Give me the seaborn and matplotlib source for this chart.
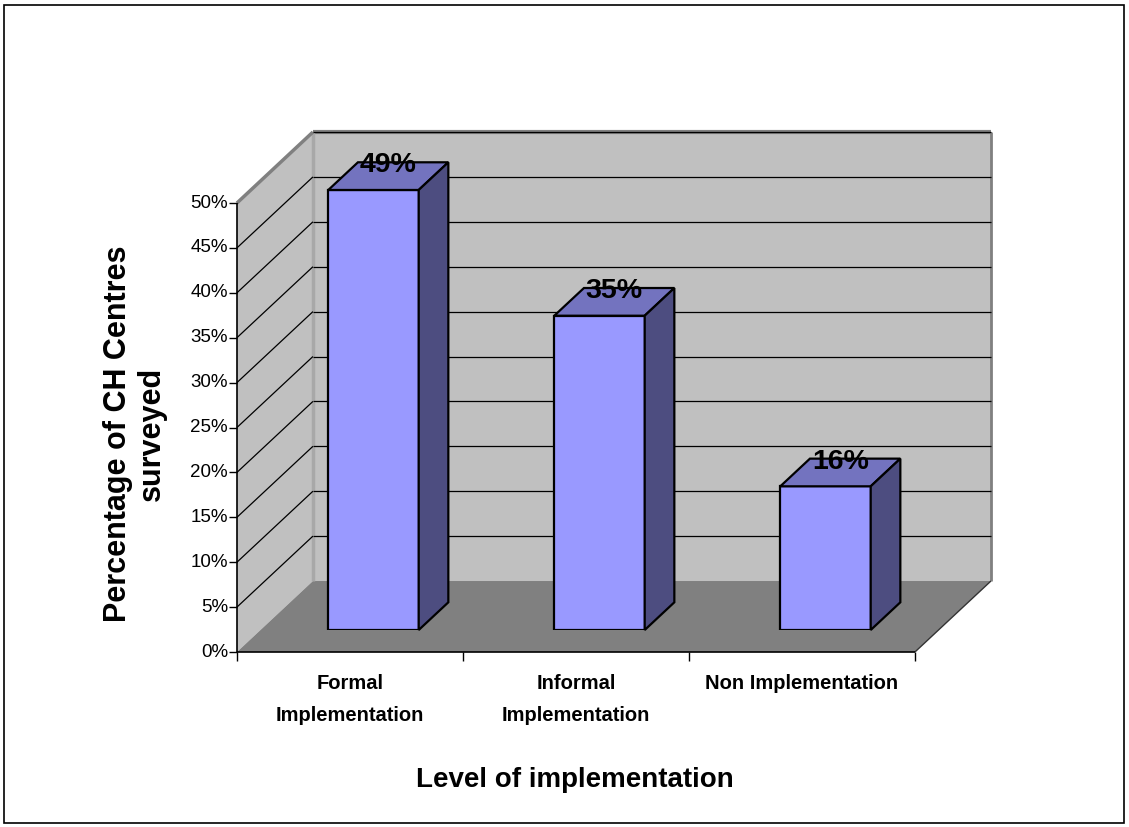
import matplotlib
matplotlib.use("Agg")
import matplotlib.pyplot as plt
from matplotlib import font_manager
from matplotlib.patches import Polygon, Rectangle
import seaborn as sns

# ---- data -------------------------------------------------------------
categories = ["Formal\nImplementation", "Informal\nImplementation", "Non Implementation"]
percentages = [49, 35, 16]
value_labels = ["49%", "35%", "16%"]
y_ticks = [0, 5, 10, 15, 20, 25, 30, 35, 40, 45, 50]
y_tick_labels = ["0%", "5%", "10%", "15%", "20%", "25%", "30%", "35%", "40%", "45%", "50%"]
x_title = "Level of implementation"
y_title = "Percentage of CH Centres\nsurveyed"

# ---- style ------------------------------------------------------------
sns.set_style("white")
installed = {f.name for f in font_manager.fontManager.ttflist}
BASE = "Liberation Sans" if "Liberation Sans" in installed else "DejaVu Sans"
NARROW = "Liberation Sans Narrow" if "Liberation Sans Narrow" in installed else BASE
plt.rcParams["font.family"] = [BASE, "DejaVu Sans"]
plt.rcParams["text.color"] = "black"

WALL = "#C0C0C0"
FLOOR = "#808080"
EDGE_GRAY = "#808080"
BAR_FRONT = "#9999FF"
BAR_TOP = "#7373BF"
BAR_SIDE = "#4D4D80"

W, H = 1129, 827
fig = plt.figure(figsize=(W / 100, H / 100), dpi=100)

# axes = the plane holding the bar fronts
ax_left, ax_bottom, ax_w, ax_h = 260.5, 630, 678, 449
ax = fig.add_axes([ax_left / W, (H - ax_bottom) / H, ax_w / W, ax_h / H])

sns.barplot(x=categories, y=percentages, ax=ax, width=0.4, color=BAR_FRONT,
            saturation=1, edgecolor="black", linewidth=1.6, zorder=5)
ax.set_xlim(-0.5, 2.5)
ax.set_ylim(0, 50)
ax.set_axis_off()

# pixel -> data unit factors
PX = 3 / ax_w
PY = 50 / ax_h

# oblique depth projection: z=0 front plane, z=1 back wall
Z0, Z1 = 0.31, 0.70
KX = 76 * PX
KY = 71 * PY


def proj(x, y, z):
    return (x + (z - Z0) * KX, y + (z - Z0) * KY)


def poly(points, **kw):
    p = Polygon(points, closed=True, clip_on=False, **kw)
    ax.add_patch(p)
    return p


def line(p0, p1, **kw):
    ax.plot([p0[0], p1[0]], [p0[1], p1[1]], clip_on=False,
            solid_capstyle="butt", **kw)


X0, X1 = -0.5, 2.5
YMAX = y_ticks[-1]

# walls and floor
poly([proj(X0, 0, 1), proj(X1, 0, 1), proj(X1, YMAX, 1), proj(X0, YMAX, 1)],
     facecolor=WALL, edgecolor="none", zorder=0)
poly([proj(X0, 0, 0), proj(X0, 0, 1), proj(X0, YMAX, 1), proj(X0, YMAX, 0)],
     facecolor=WALL, edgecolor="none", zorder=0)
poly([proj(X0, 0, 0), proj(X1, 0, 0), proj(X1, 0, 1), proj(X0, 0, 1)],
     facecolor=FLOOR, edgecolor="none", zorder=1)

# wall edges
line(proj(X0, YMAX, 1), proj(X1, YMAX, 1), color=EDGE_GRAY, lw=3, zorder=1)
line(proj(X1, 0, 1), proj(X1, YMAX, 1), color=EDGE_GRAY, lw=2, zorder=1)
line(proj(X0, 0, 1), proj(X0, YMAX, 1), color="#A8A8A8", lw=2.5, zorder=1)
line(proj(X0, YMAX, 0), proj(X0, YMAX, 1), color=EDGE_GRAY, lw=2.5, zorder=1)

# gridlines on back wall and side wall
for t in y_ticks[1:]:
    line(proj(X0, t, 1), proj(X1, t, 1), color="black", lw=0.9, zorder=2)
    if t < YMAX:
        line(proj(X0, t, 0), proj(X0, t, 1), color="black", lw=0.9, zorder=2)

# floor right edge and front edge
line(proj(X1, 0, 0), proj(X1, 0, 1), color="#333333", lw=1, zorder=2)
line(proj(X0, 0, 0), proj(X1, 0, 0), color="black", lw=1.2, zorder=3)

# value axis on the front-left edge
line(proj(X0, 0, 0), proj(X0, YMAX, 0), color="black", lw=1.2, zorder=3)
for t, lab in zip(y_ticks, y_tick_labels):
    x, y = proj(X0, t, 0)
    line((x - 8 * PX, y), (x, y), color="black", lw=1, zorder=3)
    ax.text(x - 9 * PX, y, lab, ha="right", va="center", fontsize=13.5,
            color="black", clip_on=False, family=[BASE, "DejaVu Sans"])

# category ticks and labels
for xb in [X0 + i for i in range(len(categories) + 1)]:
    x, y = proj(xb, 0, 0)
    line((x, y), (x, y - 9 * PY), color="black", lw=1, zorder=3)
for i, cat in enumerate(categories):
    x, y = proj(i, 0, 0)
    ax.text(x, y - 22 * PY, cat, ha="center", va="top", fontsize=14.5,
            fontweight="bold", linespacing=1.85, color="black", clip_on=False,
            family=[BASE, "DejaVu Sans"])

# 3-D top and side faces of each bar, plus value labels
for i, patch in enumerate(ax.patches[:len(percentages)]):
    bx0 = patch.get_x()
    bx1 = bx0 + patch.get_width()
    h = patch.get_height()
    poly([proj(bx0, h, Z0), proj(bx1, h, Z0), proj(bx1, h, Z1), proj(bx0, h, Z1)],
         facecolor=BAR_TOP, edgecolor="black", linewidth=1.6, zorder=5,
         joinstyle="miter")
    poly([proj(bx1, 0, Z0), proj(bx1, h, Z0), proj(bx1, h, Z1), proj(bx1, 0, Z1)],
         facecolor=BAR_SIDE, edgecolor="black", linewidth=1.6, zorder=5,
         joinstyle="miter")
    cx = bx0 + patch.get_width() / 2
    tx, _ = proj(cx, h, (Z0 + Z1) / 2)
    _, ty = proj(cx, h, Z1)
    ax.text(tx, ty - 10 * PY, value_labels[i], ha="center", va="baseline",
            fontsize=20.5, fontweight="bold", color="black", zorder=7,
            clip_on=False, family=[NARROW, "DejaVu Sans"])

# axis titles
fig.text(575 / W, 1 - 780 / H, x_title, ha="center", va="center",
         fontsize=20, fontweight="bold", color="black")
fig.text(135 / W, 1 - 434 / H, y_title, ha="center", va="center",
         rotation=90, fontsize=22, fontweight="bold", linespacing=1.15,
         color="black")

# chart border
fig.patches.append(Rectangle((4 / W, 4 / H), 1120 / W, 818 / H,
                             transform=fig.transFigure, fill=False,
                             edgecolor="black", linewidth=1.2))

fig.savefig("out.png", dpi=100)
